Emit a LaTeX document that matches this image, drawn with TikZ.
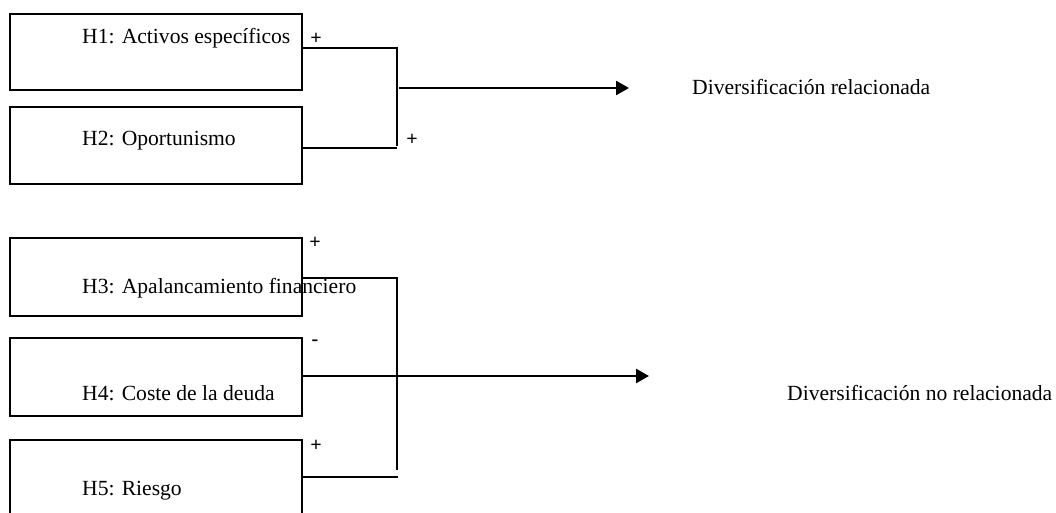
\documentclass[tikz,border=0pt]{standalone}
\usepackage{fontspec}
\setmainfont{Liberation Serif}
\usetikzlibrary{arrows.meta}
\begin{document}
\begin{tikzpicture}[x=1pt,y=-1pt,
  box/.style={draw=black,line width=2.6pt,rectangle,minimum width=292pt,inner sep=0pt},
  lbl/.style={anchor=base west,inner sep=0pt,font=\fontsize{21.6}{24}\selectfont},
  sgn/.style={inner sep=0pt,font=\fontsize{20}{22}\selectfont\bfseries},
  con/.style={line width=2.5pt},
  arr/.style={line width=2.5pt,-{Triangle[length=13pt,width=14pt]}}]
\clip (0,0) rectangle (1056,513);
\fill[white] (0,0) rectangle (1056,513);
% boxes
\node[box,minimum height=76pt] (b1) at (156,52) {};
\node[box,minimum height=77pt] (b2) at (156,145.5) {};
\node[box,minimum height=78pt] (b3) at (156,277) {};
\node[box,minimum height=78pt] (b4) at (156,377) {};
\node[box,minimum height=78pt] (b5) at (156,479) {};
% texts
\node[lbl] (t1) at (82,43.5) {H1: Activos específicos};
\node[lbl] (t2) at (82,145.5) {H2: Oportunismo};
\node[lbl] (t3) at (82,293) {H3: Apalancamiento financiero};
\node[lbl] (t4) at (82,400) {H4: Coste de la deuda};
\node[lbl] (t5) at (82,495) {H5: Riesgo};
\node[lbl] (o1) at (692,95) {Diversificación relacionada};
\node[lbl] (o2) at (787,400) {Diversificación no relacionada};
% signs
\node[sgn] (s1) at (316,39) {+};
\node[sgn] (s2) at (412,140) {+};
\node[sgn] (s3) at (315,243) {+};
\node[sgn] (s4) at (315,343) {-};
\node[sgn] (s5) at (316,446) {+};
% junctions
\coordinate (j1) at (397,48);
\coordinate (j1b) at (397,146);
\coordinate (j2) at (397,148);
\coordinate (m1) at (399,88);
\coordinate (e1) at (629,88);
\coordinate (j3) at (397,278);
\coordinate (j3b) at (397,470);
\coordinate (j5) at (398,477);
\coordinate (e2) at (649,376);
% upper group
\draw[con] (b1.east |- j1) -- (j1) -- (j1b);
\draw[con] (b2.east |- j2) -- (j2);
\draw[arr] (m1) -- (e1);
% lower group
\draw[con] (b3.east |- j3) -- (j3) -- (j3b);
\draw[arr] (b4.east |- e2) -- (e2);
\draw[con] (b5.east |- j5) -- (j5);
\end{tikzpicture}
\end{document}
